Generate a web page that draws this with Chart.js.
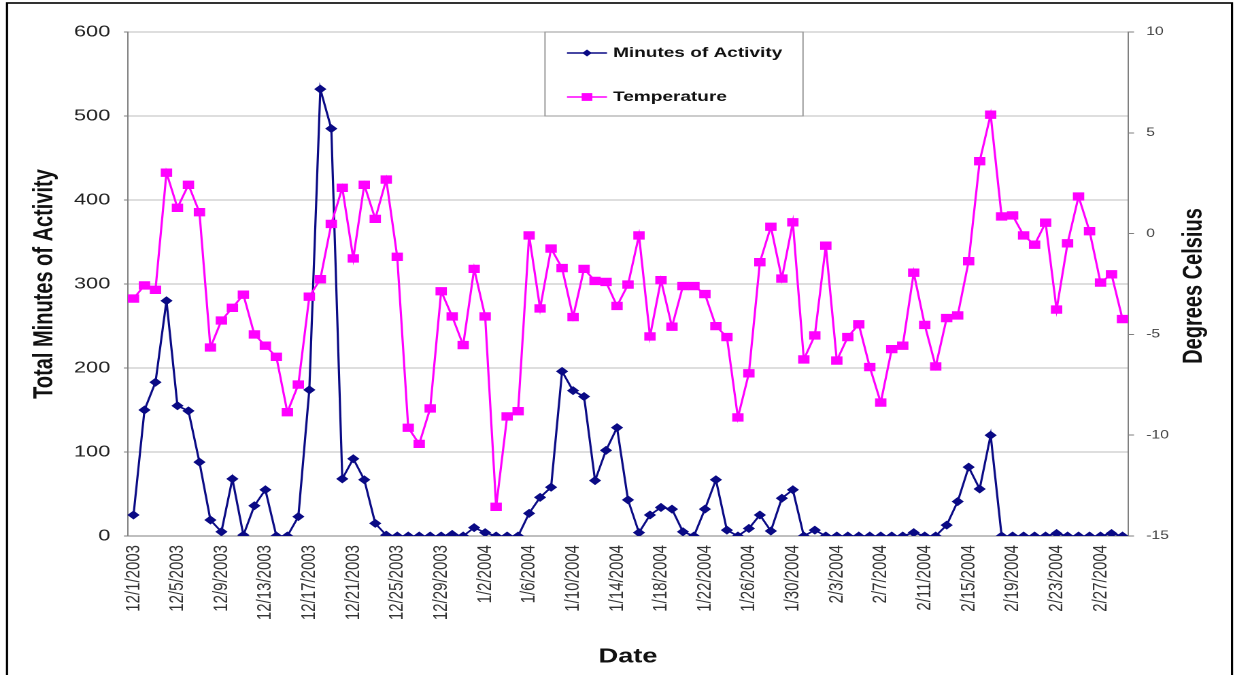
<!DOCTYPE html>
<html>
<head>
<meta charset="utf-8">
<script src="https://cdn.jsdelivr.net/npm/chart.js@4.4.1/dist/chart.umd.min.js"></script>
<style>
html,body{margin:0;padding:0;background:#fff;overflow:hidden}
</style>
</head>
<body>
<canvas id="c" width="908" height="675" style="width:1235px;height:675px;display:block"></canvas>
<script>
// ---- data ----
const dates = [
"12/1/2003","12/2/2003","12/3/2003","12/4/2003","12/5/2003","12/6/2003","12/7/2003","12/8/2003","12/9/2003","12/10/2003",
"12/11/2003","12/12/2003","12/13/2003","12/14/2003","12/15/2003","12/16/2003","12/17/2003","12/18/2003","12/19/2003","12/20/2003",
"12/21/2003","12/22/2003","12/23/2003","12/24/2003","12/25/2003","12/26/2003","12/27/2003","12/28/2003","12/29/2003","12/30/2003",
"12/31/2003",
"1/1/2004","1/2/2004","1/3/2004","1/4/2004","1/5/2004","1/6/2004","1/7/2004","1/8/2004","1/9/2004","1/10/2004",
"1/11/2004","1/12/2004","1/13/2004","1/14/2004","1/15/2004","1/16/2004","1/17/2004","1/18/2004","1/19/2004","1/20/2004",
"1/21/2004","1/22/2004","1/23/2004","1/24/2004","1/25/2004","1/26/2004","1/27/2004","1/28/2004","1/29/2004","1/30/2004",
"1/31/2004",
"2/1/2004","2/2/2004","2/3/2004","2/4/2004","2/5/2004","2/6/2004","2/7/2004","2/8/2004","2/9/2004","2/10/2004",
"2/11/2004","2/12/2004","2/13/2004","2/14/2004","2/15/2004","2/16/2004","2/17/2004","2/18/2004","2/19/2004","2/20/2004",
"2/21/2004","2/22/2004","2/23/2004","2/24/2004","2/25/2004","2/26/2004","2/27/2004","2/28/2004","2/29/2004"
];
const minutesOfActivity = [
25,150,183,280,155,149,88,19,5,68,
1,36,55,0,0,23,174,532,485,68,
92,67,15,1,0,0,0,0,0,2,
0,10,4,0,0,0,27,46,58,196,
173,166,66,102,129,43,4,25,34,32,
5,0,32,67,7,0,9,25,6,45,
55,0,7,0,0,0,0,0,0,0,
0,4,0,0,13,41,82,56,120,0,
0,0,0,0,3,0,0,0,0,3,
0
];
const temperature = [
-3.22,-2.57,-2.79,3.02,1.28,2.42,1.06,-5.65,-4.31,-3.68,
-3.03,-5.0,-5.56,-6.11,-8.86,-7.49,-3.13,-2.26,0.48,2.27,
-1.23,2.42,0.73,2.68,-1.15,-9.63,-10.43,-8.67,-2.86,-4.11,
-5.53,-1.75,-4.11,-13.55,-9.07,-8.81,-0.09,-3.71,-0.74,-1.71,
-4.14,-1.75,-2.35,-2.40,-3.59,-2.53,-0.09,-5.10,-2.31,-4.62,
-2.60,-2.60,-3.0,-4.59,-5.13,-9.12,-6.93,-1.42,0.34,-2.23,
0.56,-6.24,-5.05,-0.60,-6.30,-5.13,-4.50,-6.62,-8.38,-5.73,
-5.56,-1.94,-4.53,-6.59,-4.19,-4.06,-1.37,3.59,5.90,0.85,
0.90,-0.09,-0.55,0.54,-3.77,-0.48,1.84,0.12,-2.43,-2.02,
-4.24
];
const seriesNames = ["Minutes of Activity", "Temperature"];
const rightAxisTitle = "Degrees Celsius";
const labelEvery = 4;

// ---- styling ----
const SX = 1235 / 908;            // horizontal stretch of the original picture
const FONT = '"Liberation Sans", Arial, sans-serif';
const NAVY = '#0a0a85';
const MAGENTA = '#ff00ff';

const frameAndLegend = {
  id: 'frameAndLegend',
  beforeDraw(chart) {
    const ctx = chart.ctx;
    ctx.save();
    ctx.fillStyle = '#ffffff';
    ctx.fillRect(0, 0, chart.width, chart.height);
    ctx.strokeStyle = '#000000';
    ctx.lineWidth = 1.6;
    ctx.strokeRect(7 / SX, 3, 1225 / SX, 720);
    ctx.restore();
  },
  afterDatasetsDraw(chart) {
    const ctx = chart.ctx;
    const x0 = 545 / SX, x1 = 803 / SX, y0 = 32, y1 = 116;
    ctx.save();
    ctx.fillStyle = '#ffffff';
    ctx.fillRect(x0, y0, x1 - x0, y1 - y0);
    ctx.strokeStyle = '#9a9a9a';
    ctx.lineWidth = 1;
    ctx.strokeRect(x0, y0, x1 - x0, y1 - y0);
    const lx0 = 567 / SX, lx1 = 607 / SX, mx = 587 / SX, tx = 613 / SX;
    const rows = [53, 97];
    // row 1 : minutes
    ctx.strokeStyle = NAVY; ctx.lineWidth = 1.6;
    ctx.beginPath(); ctx.moveTo(lx0, rows[0]); ctx.lineTo(lx1, rows[0]); ctx.stroke();
    ctx.fillStyle = NAVY;
    ctx.beginPath();
    ctx.moveTo(mx, rows[0] - 3.5); ctx.lineTo(mx + 3.5, rows[0]);
    ctx.lineTo(mx, rows[0] + 3.5); ctx.lineTo(mx - 3.5, rows[0]); ctx.closePath(); ctx.fill();
    // row 2 : temperature
    ctx.strokeStyle = MAGENTA;
    ctx.beginPath(); ctx.moveTo(lx0, rows[1]); ctx.lineTo(lx1, rows[1]); ctx.stroke();
    ctx.fillStyle = MAGENTA;
    ctx.fillRect(mx - 3.9, rows[1] - 3.9, 7.8, 7.8);
    ctx.fillStyle = '#111111';
    ctx.font = 'bold 14px ' + FONT;
    ctx.textBaseline = 'middle';
    ctx.textAlign = 'left';
    ctx.fillText(seriesNames[0], tx, rows[0]);
    ctx.fillText(seriesNames[1], tx, rows[1]);
    ctx.restore();
  },
  afterDraw(chart) {
    // right axis title, reading bottom-to-top as in the original
    const ctx = chart.ctx;
    const ca = chart.chartArea;
    ctx.save();
    ctx.translate(1194 / SX, (ca.top + ca.bottom) / 2 + 2);
    ctx.rotate(-Math.PI / 2);
    ctx.fillStyle = '#111111';
    ctx.font = 'bold 20px ' + FONT;
    ctx.textAlign = 'center';
    ctx.textBaseline = 'middle';
    ctx.fillText(rightAxisTitle, 0, 0);
    ctx.restore();
  }
};

new Chart(document.getElementById('c'), {
  type: 'line',
  data: {
    labels: dates,
    datasets: [
      {
        label: seriesNames[0],
        data: minutesOfActivity,
        yAxisID: 'y',
        order: 1,
        borderColor: NAVY,
        backgroundColor: NAVY,
        borderWidth: 1.6,
        pointStyle: 'rectRot',
        pointRadius: 3.8,
        pointBorderWidth: 1,
        pointBackgroundColor: NAVY,
        pointBorderColor: NAVY,
        tension: 0,
        fill: false
      },
      {
        label: seriesNames[1],
        data: temperature,
        yAxisID: 'y2',
        order: 0,
        borderColor: MAGENTA,
        backgroundColor: MAGENTA,
        borderWidth: 1.6,
        pointStyle: 'rect',
        pointRadius: 5.2,
        pointBorderWidth: 1,
        pointBackgroundColor: MAGENTA,
        pointBorderColor: MAGENTA,
        tension: 0,
        fill: false
      }
    ]
  },
  options: {
    responsive: false,
    animation: false,
    devicePixelRatio: 2,
    layout: { padding: { top: 32, left: 0, right: 0, bottom: 0 } },
    plugins: {
      legend: { display: false },
      tooltip: { enabled: false },
      title: { display: false }
    },
    scales: {
      x: {
        type: 'category',
        offset: true,
        grid: { display: false, drawTicks: false, tickLength: 0 },
        border: { display: true, color: '#7f7f7f', width: 1 },
        ticks: {
          autoSkip: false,
          minRotation: 90,
          maxRotation: 90,
          padding: 9,
          color: '#333333',
          font: { family: FONT, size: 15 },
          callback: function (v, i) { return i % labelEvery === 0 ? dates[i] : ''; }
        },
        title: {
          display: true,
          text: 'Date',
          color: '#111111',
          font: { family: FONT, size: 20, weight: 'bold' },
          padding: { top: 0, bottom: 6 }
        },
        afterFit(s) { s.height = 139; }
      },
      y: {
        position: 'left',
        min: 0,
        max: 600,
        ticks: {
          stepSize: 100,
          padding: 10,
          color: '#222222',
          font: { family: FONT, size: 16 }
        },
        grid: { color: '#bdbdbd', tickColor: '#7f7f7f', tickLength: 3, lineWidth: 1 },
        border: { display: true, color: '#7f7f7f', width: 1 },
        title: {
          display: true,
          text: 'Total Minutes of Activity',
          color: '#111111',
          font: { family: FONT, size: 20, weight: 'bold' },
          padding: { top: 21, bottom: 0 }
        },
        afterFit(s) { s.width = 128 / SX; }
      },
      y2: {
        position: 'right',
        min: -15,
        max: 10,
        ticks: {
          stepSize: 5,
          padding: 9,
          color: '#444444',
          font: { family: FONT, size: 11.5 }
        },
        grid: { drawOnChartArea: false, color: '#7f7f7f', tickLength: 4.4 },
        border: { display: true, color: '#7f7f7f', width: 1 },
        title: { display: false },
        afterFit(s) { s.width = 908 - 1128 / SX; }
      }
    }
  },
  plugins: [frameAndLegend]
});
</script>
</body>
</html>
